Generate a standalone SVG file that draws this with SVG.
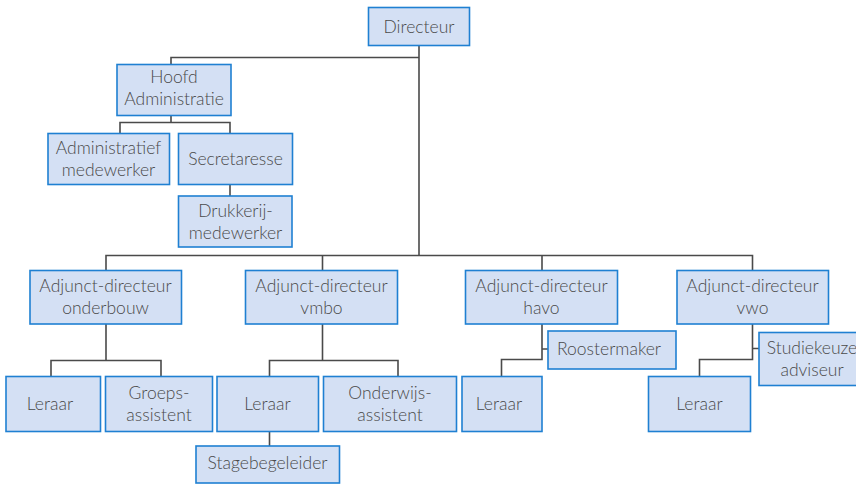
<svg xmlns="http://www.w3.org/2000/svg" width="856" height="484" viewBox="0 0 856 484">
<style>
.box{fill:#d4e0f4;stroke:#1f80d2;stroke-width:1.6}
.t{font-family:Lato,"Open Sans",sans-serif;font-size:17.5px;font-weight:300;fill:#4a4a4a;text-anchor:middle}
.c{fill:none;stroke:#4a4a4a;stroke-width:1.6}
</style>
<rect width="856" height="484" fill="#ffffff"/>
<g id="connectors">
<path class="c" d="M419,45 V255.5 M419,57.5 H171 V64.5"/>
<path class="c" d="M171,115.5 V122.5 M120,133.5 V122.5 H230 V133.5"/>
<path class="c" d="M230,184.5 V196"/>
<path class="c" d="M106,270.5 V255.5 H752.5 V270.5 M322.5,255.5 V270.5 M542,255.5 V270.5"/>
<path class="c" d="M106,324 V360.5 M51,376.5 V360.5 H161 V376.5"/>
<path class="c" d="M322.5,324 V360.5 M269.5,376.5 V360.5 H398 V376.5"/>
<path class="c" d="M269.5,431.5 V446"/>
<path class="c" d="M542,324 V359.5 H501.5 V376.5 M542,349 H548"/>
<path class="c" d="M752.5,324 V359.5 H699.5 V376.5 M752.5,348.5 H759"/>
</g>
<g id="directeur"><rect class="box" x="368.5" y="7.5" width="101" height="38"/><text class="t" x="419" y="32.5">Directeur</text></g>
<g id="hoofd-administratie"><rect class="box" x="117" y="64.5" width="114" height="51"/><text class="t" x="174" y="83">Hoofd</text><text class="t" x="174" y="105">Administratie</text></g>
<g id="administratief-medewerker"><rect class="box" x="48" y="133.5" width="121.5" height="51"/><text class="t" x="108.5" y="154">Administratief</text><text class="t" x="108.5" y="176">medewerker</text></g>
<g id="secretaresse"><rect class="box" x="178.5" y="133.5" width="114" height="51"/><text class="t" x="235.5" y="164.5">Secretaresse</text></g>
<g id="drukkerij-medewerker"><rect class="box" x="178.5" y="196" width="113.5" height="51"/><text class="t" x="235.5" y="216.5">Drukkerij-</text><text class="t" x="235.5" y="238.5">medewerker</text></g>
<g id="ad-onderbouw"><rect class="box" x="30" y="270.5" width="151.5" height="53.5"/><text class="t" x="105.5" y="292">Adjunct-directeur</text><text class="t" x="105.5" y="314">onderbouw</text></g>
<g id="ad-vmbo"><rect class="box" x="245.5" y="270.5" width="152" height="53.5"/><text class="t" x="321.5" y="292">Adjunct-directeur</text><text class="t" x="321.5" y="314">vmbo</text></g>
<g id="ad-havo"><rect class="box" x="465.5" y="270.5" width="152" height="53.5"/><text class="t" x="541.5" y="292">Adjunct-directeur</text><text class="t" x="541.5" y="314">havo</text></g>
<g id="ad-vwo"><rect class="box" x="677" y="270.5" width="151.5" height="53.5"/><text class="t" x="752.5" y="292">Adjunct-directeur</text><text class="t" x="752.5" y="314">vwo</text></g>
<g id="leraar-onderbouw"><rect class="box" x="6" y="376.5" width="94.5" height="55"/><text class="t" x="50" y="409.5">Leraar</text></g>
<g id="groepsassistent"><rect class="box" x="105.5" y="376.5" width="107" height="55"/><text class="t" x="159" y="398.5">Groeps-</text><text class="t" x="159" y="420.5">assistent</text></g>
<g id="leraar-vmbo"><rect class="box" x="217" y="376.5" width="101.5" height="55"/><text class="t" x="267.5" y="409.5">Leraar</text></g>
<g id="onderwijsassistent"><rect class="box" x="323.5" y="376.5" width="133" height="55"/><text class="t" x="390" y="398.5">Onderwijs-</text><text class="t" x="390" y="420.5">assistent</text></g>
<g id="stagebegeleider"><rect class="box" x="196" y="446" width="143.5" height="37"/><text class="t" x="267.5" y="468.5">Stagebegeleider</text></g>
<g id="roostermaker"><rect class="box" x="548" y="331" width="128" height="38"/><text class="t" x="609" y="355">Roostermaker</text></g>
<g id="leraar-havo"><rect class="box" x="462" y="376.5" width="80" height="55"/><text class="t" x="499" y="409.5">Leraar</text></g>
<g id="studiekeuzeadviseur"><rect class="box" x="759" y="332.5" width="108" height="53"/><text class="t" x="812" y="353.5">Studiekeuze</text><text class="t" x="812" y="376">adviseur</text></g>
<g id="leraar-vwo"><rect class="box" x="648.5" y="376.5" width="102" height="55"/><text class="t" x="699.5" y="409.5">Leraar</text></g>
</svg>
